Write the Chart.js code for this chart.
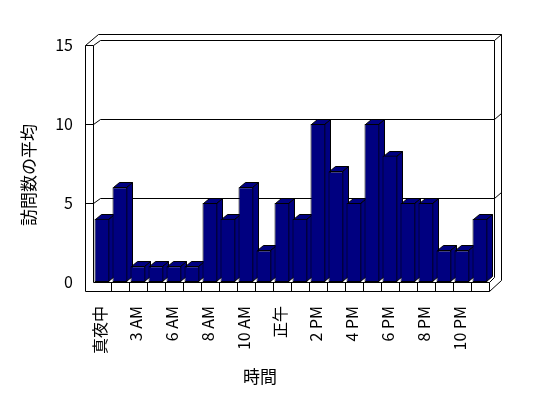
<!DOCTYPE html>
<html>
<head>
<meta charset="utf-8">
<script src="https://cdn.jsdelivr.net/npm/chart.js@4"></script>
<style>
  body { margin: 0; background: #fff; }
</style>
</head>
<body>
<canvas id="visitChart" width="548" height="398"></canvas>
<script>
// tick labels, one per bar (only every other bar is labelled)
const hourLabels = ['真夜中', '', '3 AM', '', '6 AM', '', '8 AM', '', '10 AM', '', '正午', '',
                    '2 PM', '', '4 PM', '', '6 PM', '', '8 PM', '', '10 PM', ''];
const avgVisits = [4, 6, 1, 1, 1, 1, 5, 4, 6, 2, 5, 4, 10, 7, 5, 10, 8, 5, 5, 2, 2, 4];
const yTicks = [0, 5, 10, 15];
const xTitle = '時間';
const yTitle = '訪問数の平均';

const FONT = '"Noto Sans CJK JP", "Noto Sans", sans-serif';
const BAR = '#000080';

function line(ctx, x1, y1, x2, y2) {
  ctx.beginPath();
  ctx.moveTo(Math.round(x1) + 0.5, Math.round(y1) + 0.5);
  ctx.lineTo(Math.round(x2) + 0.5, Math.round(y2) + 0.5);
  ctx.stroke();
}

// draws the excel-like 3d box (walls, floor) and the side/top faces of the bars
const box3d = {
  id: 'box3d',
  beforeDatasetsDraw(chart) {
    const { ctx, chartArea: a, scales: { x, y } } = chart;
    const L = a.left, R = a.right, T = a.top, B = a.bottom;
    const wall = 8, floor = 9;
    ctx.save();
    ctx.strokeStyle = '#000';
    ctx.lineWidth = 1;

    // left wall
    line(ctx, L - wall, T, L - wall, B + floor);
    line(ctx, L, T, L, B);
    line(ctx, L - wall, T, L, T);
    line(ctx, L - wall, T, L - wall + 13, T - 11);
    line(ctx, L, T, L + 7, T - 5);
    // back wall top + right edge
    line(ctx, L - wall + 13, T - 11, R + 12, T - 11);
    line(ctx, L + 7, T - 5, R + 5, T - 5);
    line(ctx, R + 5, T - 5, R + 12, T - 11);
    line(ctx, R + 5, T - 5, R + 5, B - 5);
    line(ctx, R + 12, T - 11, R + 12, B + floor - 11);
    line(ctx, R + 12, B + floor - 11, R, B + floor);

    // grid lines
    yTicks.filter(v => v > 0 && v < 15).forEach(v => {
      const py = y.getPixelForValue(v);
      line(ctx, L - wall, py, L, py);
      line(ctx, L, py, L + 7, py - 5);
      line(ctx, L + 7, py - 5, R + 5, py - 5);
      line(ctx, R + 5, py - 5, R + 12, py - 11);
    });

    // floor
    line(ctx, L - wall, B + floor, R, B + floor);
    line(ctx, L, B, R, B);
    line(ctx, R, B, R, B + floor);
    line(ctx, R, B, R + 5, B - 5);
    for (let i = 1; i < hourLabels.length; i++) {
      const px = (x.getPixelForValue(i - 1) + x.getPixelForValue(i)) / 2;
      line(ctx, px, B, px, B + floor);
    }

    // side and top faces, left to right so the next bar hides them
    const dx = 6, dy = 5;
    ctx.fillStyle = BAR;
    chart.getDatasetMeta(0).data.forEach(bar => {
      const l = Math.round(bar.x - bar.width / 2) + 0.5;
      const r = Math.round(bar.x + bar.width / 2) - 0.5;
      const t = Math.round(bar.y) + 0.5;
      const b = Math.round(bar.base) - 0.5;
      ctx.beginPath();
      ctx.moveTo(r, t);
      ctx.lineTo(r + dx, t - dy);
      ctx.lineTo(r + dx, b - dy);
      ctx.lineTo(r, b);
      ctx.closePath();
      ctx.fill();
      ctx.stroke();
      ctx.beginPath();
      ctx.moveTo(l, t);
      ctx.lineTo(l + dx, t - dy);
      ctx.lineTo(r + dx, t - dy);
      ctx.lineTo(r, t);
      ctx.closePath();
      ctx.fill();
      ctx.stroke();
    });
    ctx.restore();
  },
  afterDraw(chart) {
    const ctx = chart.ctx;
    ctx.save();
    ctx.fillStyle = '#000';
    ctx.font = '17px ' + FONT;
    ctx.textAlign = 'center';
    ctx.textBaseline = 'middle';
    ctx.fillText(xTitle, 260, 377);
    ctx.translate(29, 175);
    ctx.rotate(-Math.PI / 2);
    ctx.fillText(yTitle, 0, 0);
    ctx.restore();
  }
};

new Chart(document.getElementById('visitChart'), {
  type: 'bar',
  data: {
    labels: hourLabels,
    datasets: [{
      data: avgVisits,
      backgroundColor: BAR,
      borderColor: '#000',
      borderWidth: 1,
      borderSkipped: false,
      categoryPercentage: 1,
      barPercentage: 0.8333
    }]
  },
  options: {
    responsive: false,
    animation: false,
    layout: { padding: { top: 45, right: 59, left: 0, bottom: 0 } },
    plugins: { legend: { display: false }, tooltip: { enabled: false } },
    scales: {
      x: {
        grid: { display: false, drawTicks: false },
        border: { display: false },
        ticks: {
          autoSkip: false, maxRotation: 90, minRotation: 90,
          padding: 24, labelOffset: -2, color: '#000',
          font: { family: FONT, size: 16 }
        },
        afterFit: s => { s.height = 116; }
      },
      y: {
        min: 0, max: 15,
        grid: { display: false, drawTicks: false },
        border: { display: false },
        ticks: { stepSize: 5, padding: 20, color: '#000', font: { family: FONT, size: 16 } },
        afterFit: s => { s.width = 93; }
      }
    }
  },
  plugins: [box3d]
});
</script>
</body>
</html>
